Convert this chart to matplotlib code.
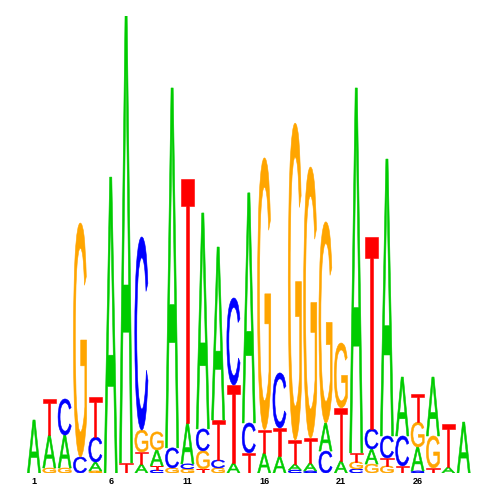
import matplotlib
matplotlib.use("Agg")
import matplotlib.pyplot as plt
from matplotlib.textpath import TextPath
from matplotlib.patches import PathPatch
from matplotlib.path import Path
from matplotlib.font_manager import FontProperties
import numpy as np

# information content per letter (bits), positions 1..29
A = [0.232, 0.144, 0.144, 0.000, 0.039, 1.295, 1.956, 0.039, 0.070, 1.575,
     0.179, 0.945, 0.757, 0.044, 1.007, 0.088, 0.074, 0.026, 0.035, 0.123,
     0.053, 1.597, 0.066, 1.212, 0.258, 0.105, 0.258, 0.026, 0.223]
C = [0.000, 0.000, 0.158, 0.070, 0.109, 0.000, 0.000, 0.845, 0.013, 0.088,
     0.022, 0.096, 0.035, 0.381, 0.131, 0.000, 0.241, 0.013, 0.009, 0.096,
     0.000, 0.018, 0.088, 0.096, 0.131, 0.009, 0.000, 0.000, 0.000]
G = [0.000, 0.022, 0.022, 1.024, 0.009, 0.000, 0.000, 0.096, 0.079, 0.022,
     0.018, 0.079, 0.022, 0.000, 0.000, 1.190, 0.000, 1.387, 1.186, 0.880,
     0.284, 0.031, 0.039, 0.031, 0.000, 0.109, 0.140, 0.000, 0.000]
T = [0.000, 0.158, 0.000, 0.000, 0.175, 0.000, 0.044, 0.053, 0.018, 0.000,
     1.068, 0.018, 0.175, 0.341, 0.088, 0.101, 0.123, 0.105, 0.109, 0.000,
     0.232, 0.039, 0.840, 0.035, 0.031, 0.123, 0.022, 0.188, 0.000]
tick_pos = [1, 6, 11, 16, 21, 26]

colors = {"A": "#00cc00", "C": "#0000ff", "G": "#ffa500", "T": "#ff0000"}
heights = {"A": A, "C": C, "G": G, "T": T}
fp = FontProperties(family="Liberation Sans")

glyphs = {}
for ch in "ACGT":
    tp = TextPath((0, 0), ch, size=1, prop=fp)
    glyphs[ch] = (tp, tp.get_extents())

def draw_letter(ax, ch, x0, y0, w, h):
    tp, bb = glyphs[ch]
    v = tp.vertices.copy()
    v[:, 0] = (v[:, 0] - bb.x0) / bb.width * w + x0
    v[:, 1] = (v[:, 1] - bb.y0) / bb.height * h + y0
    ax.add_patch(PathPatch(Path(v, tp.codes), fc=colors[ch], ec=colors[ch], lw=0.4))

fig = plt.figure(figsize=(5, 5), dpi=100)
ax = fig.add_axes([0.0526, 0.054, 0.890, 0.914])
n = len(A)
w = 0.86
for i in range(n):
    col = sorted([(heights[ch][i], ch) for ch in "ACGT" if heights[ch][i] > 0])
    y = 0.0
    for h, ch in col:
        draw_letter(ax, ch, i + 1 - w / 2, y, w, h)
        y += h

ax.set_xlim(0.5, n + 0.5)
ax.set_ylim(0, 2)
ax.set_xticks(tick_pos)
ax.set_xticklabels([str(t) for t in tick_pos], fontsize=6.5, fontweight="bold",
                   family="Liberation Sans")
ax.tick_params(axis="x", length=0, pad=3)
ax.set_yticks([])
for s in ax.spines.values():
    s.set_visible(False)
fig.savefig("out.png", dpi=100)
